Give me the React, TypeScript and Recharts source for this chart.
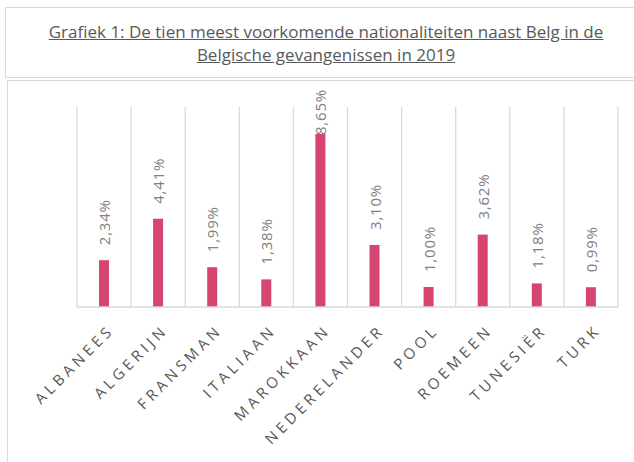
import { BarChart, Bar, XAxis, YAxis, CartesianGrid, LabelList } from "recharts"

const nationaliteiten = [
  "ALBANEES",
  "ALGERIJN",
  "FRANSMAN",
  "ITALIAAN",
  "MAROKKAAN",
  "NEDERELANDER",
  "POOL",
  "ROEMEEN",
  "TUNESIËR",
  "TURK",
]
const aandeel = [2.34, 4.41, 1.99, 1.38, 8.65, 3.1, 1.0, 3.62, 1.18, 0.99]

const data = nationaliteiten.map((naam, i) => ({ naam, waarde: aandeel[i] }))

const FONT = "'Open Sans', 'DejaVu Sans', sans-serif"
const BAR = "#d5456f"

const fmt = (v: number) => v.toFixed(2).replace(".", ",") + "%"

function ValueLabel(props: any) {
  const { x, y, width, value } = props
  const cx = x + width / 2
  // text grows upward from the bar; keep it inside the chart frame like Excel does
  const base = Math.max(y - 15, 55)
  return (
    <text
      x={cx}
      y={base}
      transform={`rotate(-90, ${cx}, ${base})`}
      textAnchor="start"
      dominantBaseline="central"
      fill="#808080"
      fontFamily={FONT}
      fontSize={15}
      letterSpacing={0.8}
    >
      {fmt(value)}
    </text>
  )
}

function CategoryTick(props: any) {
  const { x, y, payload } = props
  return (
    <g transform={`translate(${x + 11},${y + 16})`}>
      <text
        transform="rotate(-45)"
        textAnchor="end"
        fill="#595959"
        fontFamily={FONT}
        fontSize={15}
        letterSpacing={4}
      >
        {payload.value}
      </text>
    </g>
  )
}

export default function App() {
  return (
    <div
      style={{
        position: "fixed",
        left: 0,
        top: 0,
        width: 634,
        height: 462,
        background: "#fff",
        overflow: "hidden",
      }}
    >
      <div
        style={{
          position: "absolute",
          left: 5,
          top: 7,
          width: 642,
          height: 71,
          border: "1px solid #d9d9d9",
          boxSizing: "border-box",
          display: "flex",
          alignItems: "center",
          justifyContent: "center",
          textAlign: "center",
          fontFamily: FONT,
          fontSize: 17,
          lineHeight: "23px",
          color: "#595959",
          textDecoration: "underline",
        }}
      >
        <div>
          Grafiek 1: De tien meest voorkomende nationaliteiten naast Belg in de
          <br />
          Belgische gevangenissen in 2019
        </div>
      </div>
      <div
        style={{
          position: "absolute",
          left: 7,
          top: 80,
          width: 700,
          height: 420,
          border: "1px solid #d9d9d9",
          boxSizing: "border-box",
        }}
      />
      <div style={{ position: "absolute", left: 0, top: 80 }}>
        <BarChart
          width={634}
          height={382}
          data={data}
          margin={{ top: 27, right: 16, left: 77, bottom: 0 }}
          barSize={10}
        >
          <CartesianGrid
            horizontal={false}
            stroke="#d9d9d9"
            strokeWidth={1.3}
            verticalCoordinatesGenerator={({ offset }: any) =>
              Array.from({ length: nationaliteiten.length + 1 }, (_, i) =>
                offset.left + (i * offset.width) / nationaliteiten.length
              )
            }
          />
          <XAxis
            dataKey="naam"
            height={155}
            interval={0}
            tickLine={false}
            axisLine={{ stroke: "#d9d9d9", strokeWidth: 1.3 }}
            tick={<CategoryTick />}
          />
          <YAxis hide domain={[0, 10]} />
          <Bar dataKey="waarde" fill={BAR} isAnimationActive={false}>
            <LabelList dataKey="waarde" content={<ValueLabel />} />
          </Bar>
        </BarChart>
      </div>
    </div>
  )
}
